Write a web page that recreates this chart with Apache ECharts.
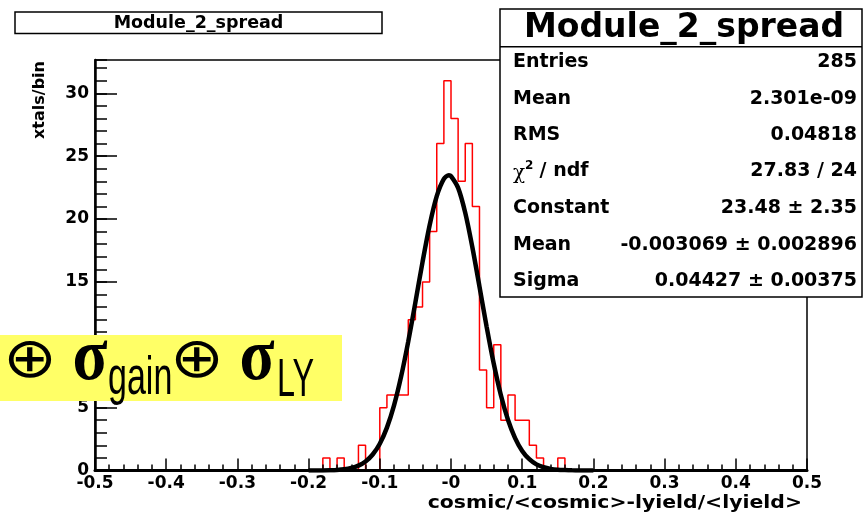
<!DOCTYPE html>
<html>
<head>
<meta charset="utf-8">
<script src="https://cdn.jsdelivr.net/npm/echarts@6/dist/echarts.min.js"></script>
<style>
html,body{margin:0;padding:0;background:#fff;}
#chart{width:865px;height:513px;}
</style>
</head>
<body>
<div id="chart"></div>
<script>
// ---------- data ----------
const histTitle = 'Module_2_spread';
const xAxisTitle = 'cosmic/<cosmic>-lyield/<lyield>';
const yAxisTitle = 'xtals/bin';
const xTickLabels = ['-0.5','-0.4','-0.3','-0.2','-0.1','-0','0.1','0.2','0.3','0.4','0.5'];
const yTickLabels = ['0','5','10','15','20','25','30'];

// bin edges (100 bins of width 0.01 from -0.5 to 0.5)
const binEdges = [
 -0.50,-0.49,-0.48,-0.47,-0.46,-0.45,-0.44,-0.43,-0.42,-0.41,
 -0.40,-0.39,-0.38,-0.37,-0.36,-0.35,-0.34,-0.33,-0.32,-0.31,
 -0.30,-0.29,-0.28,-0.27,-0.26,-0.25,-0.24,-0.23,-0.22,-0.21,
 -0.20,-0.19,-0.18,-0.17,-0.16,-0.15,-0.14,-0.13,-0.12,-0.11,
 -0.10,-0.09,-0.08,-0.07,-0.06,-0.05,-0.04,-0.03,-0.02,-0.01,
  0.00, 0.01, 0.02, 0.03, 0.04, 0.05, 0.06, 0.07, 0.08, 0.09,
  0.10, 0.11, 0.12, 0.13, 0.14, 0.15, 0.16, 0.17, 0.18, 0.19,
  0.20, 0.21, 0.22, 0.23, 0.24, 0.25, 0.26, 0.27, 0.28, 0.29,
  0.30, 0.31, 0.32, 0.33, 0.34, 0.35, 0.36, 0.37, 0.38, 0.39,
  0.40, 0.41, 0.42, 0.43, 0.44, 0.45, 0.46, 0.47, 0.48, 0.49,
  0.50
];
// entries per bin
const binCounts = [
 0,0,0,0,0,0,0,0,0,0,
 0,0,0,0,0,0,0,0,0,0,
 0,0,0,0,0,0,0,0,0,0,
 0,0,1,0,1,0,0,2,0,0,
 5,6,6,6,12,13,15,19,26,31,
 28,23,26,21,8,5,10,4,6,4,
 4,2,1,0,0,1,0,0,0,0,
 0,0,0,0,0,0,0,0,0,0,
 0,0,0,0,0,0,0,0,0,0,
 0,0,0,0,0,0,0,0,0,0
];

// fitted gaussian curve
const fitX = [-0.20,-0.19,-0.18,-0.17,-0.16,-0.15,-0.14,-0.13,-0.12,-0.11,
              -0.10,-0.09,-0.08,-0.07,-0.06,-0.05,-0.04,-0.03,-0.02,-0.01,
              -0.003,0.00,0.01,0.02,0.03,0.04,0.05,0.06,0.07,0.08,0.09,
              0.10,0.11,0.12,0.13,0.14,0.15,0.16,0.17,0.18,0.19,0.20];
const fitY = [0.001,0.003,0.008,0.02,0.044,0.095,0.20,0.39,0.72,1.27,
              2.13,3.41,5.18,7.49,10.27,13.38,16.58,19.51,21.82,23.19,
              23.48,23.42,22.48,20.50,17.76,14.63,11.45,8.51,6.01,4.04,2.58,
              1.56,0.90,0.49,0.26,0.13,0.06,0.03,0.012,0.005,0.002,0.001];

// statistics box
const statsLabels = ['Entries','Mean','RMS','χ2 / ndf','Constant','Mean','Sigma'];
const statsValues = ['285','2.301e-09','0.04818','27.83 / 24','23.48 ± 2.35','-0.003069 ± 0.002896','0.04427 ± 0.00375'];

// overlay formula pieces
const overlayParts = ['⊕','σ','gain','⊕','σ','LY'];

// ---------- chart ----------
const FONT = '"DejaVu Sans", "Liberation Sans", sans-serif';
const chart = echarts.init(document.getElementById('chart'), null, {renderer: 'canvas'});

const histData = binEdges.map((e, i) => [e, i < binCounts.length ? binCounts[i] : binCounts[binCounts.length - 1]]);
const fitData = fitX.map((x, i) => [x, fitY[i]]);

const yMax = 32.65;

// stats box graphics
const boxL = 500, boxR = 862, boxT = 9, boxB = 297, sepY = 46.7;
const rowY = [62, 99, 135, 171.5, 208, 245, 281.5];
const statGraphics = [];
statGraphics.push({type:'rect', shape:{x:boxL, y:boxT, width:boxR-boxL, height:boxB-boxT},
  style:{fill:'#fff', stroke:'#000', lineWidth:1.5}, z:100});
statGraphics.push({type:'line', shape:{x1:boxL, y1:sepY, x2:boxR, y2:sepY},
  style:{stroke:'#000', lineWidth:1.5}, z:101});
statGraphics.push({type:'text', x:(boxL+boxR)/2 + 3, y:28, z:102,
  style:{text:histTitle, font:'bold 33px ' + FONT, fill:'#000', textAlign:'center', textVerticalAlign:'middle'}});
statsLabels.forEach((lab, i) => {
  if (lab.startsWith('χ2')) {
    statGraphics.push({type:'text', x:513, y:rowY[i]+2, z:102,
      style:{text:'χ', font:'20px "DejaVu Serif", serif', fill:'#000', textAlign:'left', textVerticalAlign:'middle'}});
    statGraphics.push({type:'text', x:525, y:rowY[i]-6, z:102,
      style:{text:'2', font:'bold 12px ' + FONT, fill:'#000', textAlign:'left', textVerticalAlign:'middle'}});
    statGraphics.push({type:'text', x:533, y:rowY[i], z:102,
      style:{text:lab.slice(2), font:'bold 19px ' + FONT, fill:'#000', textAlign:'left', textVerticalAlign:'middle'}});
  } else {
    statGraphics.push({type:'text', x:513, y:rowY[i], z:102,
      style:{text:lab, font:'bold 19px ' + FONT, fill:'#000', textAlign:'left', textVerticalAlign:'middle'}});
  }
  statGraphics.push({type:'text', x:857, y:rowY[i], z:102,
    style:{text:statsValues[i], font:'bold 19px ' + FONT, fill:'#000', textAlign:'right', textVerticalAlign:'middle'}});
});

// overlay (yellow box)
const overlay = [
  {type:'rect', shape:{x:0, y:335, width:342, height:66}, style:{fill:'#ffff66'}, z:110},
  {type:'text', x:30, y:362, scaleX:1.15, z:111,
    style:{text:overlayParts[0], font:'56px "DejaVu Sans"', fill:'#000', textAlign:'center', textVerticalAlign:'middle'}},
  {type:'text', x:90, y:360, scaleX:0.87, z:111,
    style:{text:overlayParts[1], font:'bold 74px "Liberation Serif"', fill:'#000', textAlign:'center', textVerticalAlign:'middle'}},
  {type:'text', x:108, y:379, scaleX:0.63, z:111,
    style:{text:overlayParts[2], font:'54px "Liberation Sans"', fill:'#000', textAlign:'left', textVerticalAlign:'middle'}},
  {type:'text', x:197, y:362, scaleX:1.15, z:111,
    style:{text:overlayParts[3], font:'56px "DejaVu Sans"', fill:'#000', textAlign:'center', textVerticalAlign:'middle'}},
  {type:'text', x:257, y:360, scaleX:0.87, z:111,
    style:{text:overlayParts[4], font:'bold 74px "Liberation Serif"', fill:'#000', textAlign:'center', textVerticalAlign:'middle'}},
  {type:'text', x:277, y:381, scaleX:0.6, z:111,
    style:{text:overlayParts[5], font:'54px "Liberation Sans"', fill:'#000', textAlign:'left', textVerticalAlign:'middle'}}
];

const option = {
  animation: false,
  backgroundColor: '#fff',
  grid: {left: 95, right: 58, top: 60, bottom: 42.5, show: true, borderColor: '#000', borderWidth: 1.5, backgroundColor: 'transparent'},
  xAxis: [{
    type: 'value', min: -0.5, max: 0.5, interval: 0.1, z: 5,
    axisLine: {show: true, onZero: false, lineStyle: {color: '#000', width: 3}},
    axisTick: {show: true, inside: true, length: 12, lineStyle: {color: '#000', width: 1.5}},
    minorTick: {show: true, splitNumber: 5, length: 6, lineStyle: {color: '#000', width: 1.5}},
    splitLine: {show: false}, minorSplitLine: {show: false},
    axisLabel: {show: true, margin: 5, color: '#000', fontFamily: FONT, fontWeight: 'bold', fontSize: 17,
      showMinLabel: true, showMaxLabel: true,
      formatter: v => { const k = Math.round((v + 0.5) * 10); return xTickLabels[k] !== undefined ? xTickLabels[k] : ''; }}
  }],
  yAxis: [{
    type: 'value', min: 0, max: yMax, interval: 5, position: 'left', z: 5,
    axisLine: {show: true, onZero: false, lineStyle: {color: '#000', width: 2.5}},
    axisTick: {show: true, inside: true, length: 22, lineStyle: {color: '#000', width: 1.5}},
    splitLine: {show: false},
    axisLabel: {show: true, margin: 6, color: '#000', fontFamily: FONT, fontWeight: 'bold', fontSize: 17,
      showMaxLabel: false,
      formatter: v => { const k = v / 5; return (Math.abs(k - Math.round(k)) < 1e-6 && yTickLabels[Math.round(k)] !== undefined) ? yTickLabels[Math.round(k)] : ''; }}
  }, {
    type: 'value', min: 0, max: yMax, interval: 1, position: 'left', offset: 0, z: 4,
    axisLine: {show: false, onZero: false},
    axisTick: {show: true, inside: true, length: 12, lineStyle: {color: '#000', width: 1.5}},
    splitLine: {show: false},
    axisLabel: {show: false}
  }],
  series: [{
    type: 'line', name: 'histogram', step: 'end', data: histData, xAxisIndex: 0, yAxisIndex: 0,
    symbol: 'none', clip: true, z: 2,
    lineStyle: {color: '#ff0000', width: 1.5}
  }, {
    type: 'line', name: 'fit', data: fitData, xAxisIndex: 0, yAxisIndex: 0,
    symbol: 'none', smooth: 0.3, clip: true, z: 3,
    lineStyle: {color: '#000', width: 4.5}
  }],
  graphic: [
    {type:'rect', shape:{x:15, y:12, width:367, height:21.5}, style:{fill:'#fff', stroke:'#000', lineWidth:1.5}, z:100},
    {type:'text', x:198.5, y:23, z:101,
      style:{text:histTitle, font:'bold 17.5px ' + FONT, fill:'#000', textAlign:'center', textVerticalAlign:'middle'}},
    {type:'text', x:40, y:100, rotation: Math.PI/2, z:101,
      style:{text:yAxisTitle, font:'bold 16px ' + FONT, fill:'#000', textAlign:'center', textVerticalAlign:'middle'}},
    {type:'text', x:802, y:504, scaleX:1.2, z:101,
      style:{text:xAxisTitle, font:'bold 17px ' + FONT, fill:'#000', textAlign:'right', textVerticalAlign:'middle'}}
  ].concat(statGraphics).concat(overlay)
};
chart.setOption(option);
</script>
</body>
</html>
